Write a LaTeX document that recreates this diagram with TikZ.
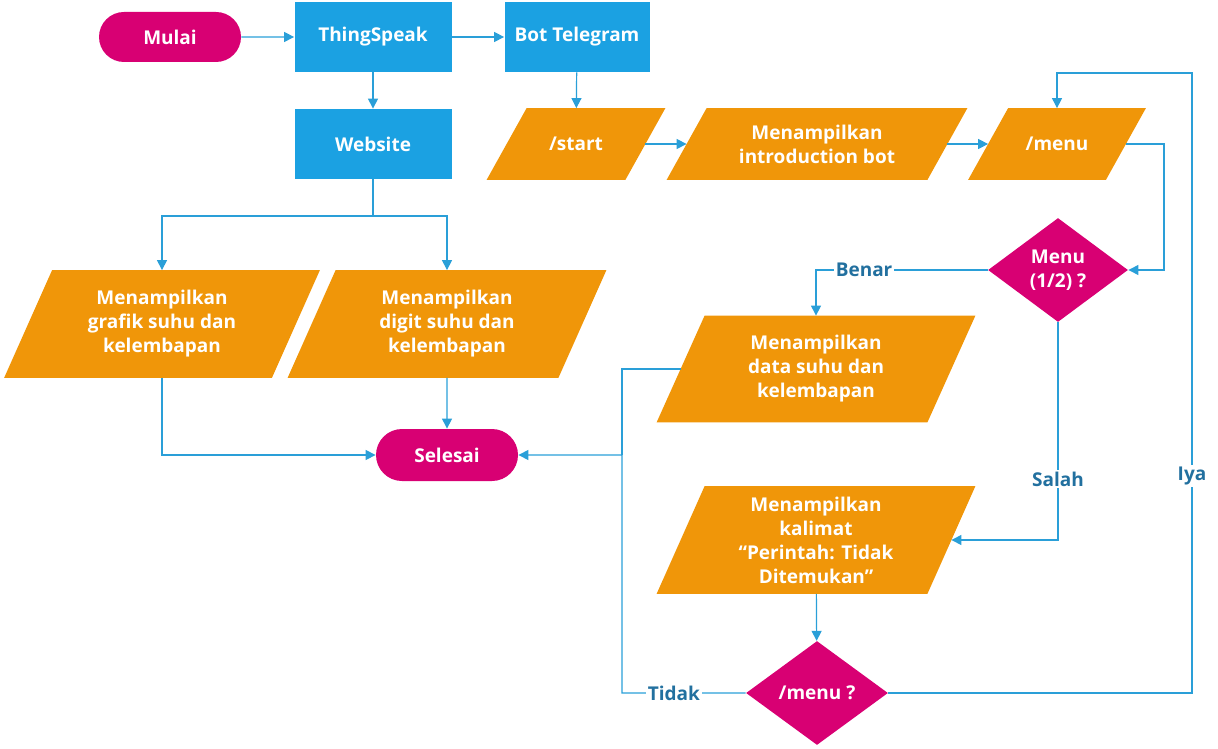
\documentclass[tikz,border=0pt]{standalone}
\usepackage{fontspec}
\setmainfont{Open Sans}
\usetikzlibrary{shapes.geometric,shapes.misc,arrows.meta,backgrounds}
\definecolor{fcMagenta}{HTML}{D80073}
\definecolor{fcBlue}{HTML}{1BA1E2}
\definecolor{fcOrange}{HTML}{F09609}
\definecolor{fcLine}{HTML}{2A9FD8}
\definecolor{fcLabel}{HTML}{22709F}
\tikzset{
  txt/.style={text=white, font=\fontsize{9.5}{12}\selectfont\bfseries, align=center, inner sep=0pt},
  terminal/.style={txt, rounded rectangle, fill=fcMagenta, minimum width=71pt, minimum height=25pt},
  process/.style={txt, rectangle, fill=fcBlue, minimum height=35pt},
  % parallelogram: #1 = width at mid height, #2 = half of the slant
  io/.style 2 args={txt, rectangle, minimum width=#1, append after command={
    \pgfextra{\begin{pgfonlayer}{background}
      \fill[fcOrange] ([xshift=-#2]\tikzlastnode.south west) -- ([xshift=-#2]\tikzlastnode.south east)
        -- ([xshift=#2]\tikzlastnode.north east) -- ([xshift=#2]\tikzlastnode.north west) -- cycle;
    \end{pgfonlayer}}}},
  decision/.style={txt, diamond, fill=fcMagenta, minimum width=70pt, minimum height=52pt, aspect=1.35},
  conn/.style={draw=fcLine, line width=0.6pt},
  flow/.style={conn, -{Triangle[length=5pt,width=5pt]}},
  lbl/.style={fill=white, text=fcLabel, font=\fontsize{9.5}{12}\selectfont\bfseries, inner sep=1pt}
}
\begin{document}
\begin{tikzpicture}[x=0.5pt, y=-0.5pt]
  \useasboundingbox (0,0) rectangle (1218,748);
  % top row
  \node[terminal] (mulai) at (170,37) {Mulai};
  \node[process, minimum width=78.5pt] (thing) at (373,37) {ThingSpeak};
  \node[process, minimum width=72.5pt] (bot) at (577,37) {Bot Telegram};
  \node[process, minimum width=78.5pt] (web) at (373,144) {Website};
  % telegram branch
  \node[io={69pt}{10pt}, minimum height=35.5pt] (start) at (576,144) {/start};
  \node[io={130pt}{10pt}, minimum height=35.5pt] (intro) at (817,144) {Menampilkan\\introduction bot};
  \node[io={68.5pt}{10pt}, minimum height=35.5pt] (menu) at (1057,144) {/menu};
  \node[decision] (tanya1) at (1058,270) {Menu\\(1/2) ?};
  \node[io={135pt}{12pt}, minimum height=53pt] (data) at (816,369) {Menampilkan\\data suhu dan\\kelembapan};
  \node[io={135pt}{12pt}, minimum height=53.5pt] (kalimat) at (816,540) {Menampilkan\\kalimat\\“Perintah: Tidak\\Ditemukan”};
  \node[decision, minimum width=71pt] (tanya2) at (817,693) {/menu ?};
  % website branch
  \node[io={133.5pt}{12pt}, minimum height=53.5pt] (grafik) at (162,324) {Menampilkan\\grafik suhu dan\\kelembapan};
  \node[io={135pt}{12pt}, minimum height=53.5pt] (digit) at (447,324) {Menampilkan\\digit suhu dan\\kelembapan};
  \node[terminal, minimum height=26pt] (selesai) at (447,455) {Selesai};
  % helper points
  \coordinate (cab) at (373,216);
  \coordinate (menuR) at (1164,144);
  \coordinate (jl) at (622,455);
  \coordinate (iyaB) at (1192,693);
  \coordinate (iyaT) at (1192,73);
  % connectors
  \draw[flow] (mulai) -- (thing);
  \draw[flow] (thing) -- (bot);
  \draw[flow] (thing) -- (web);
  \draw[flow] (bot) -- (start);
  \draw[flow] (start) -- (intro);
  \draw[flow] (intro) -- (menu);
  \draw[conn] (web) -- (cab);
  \draw[flow] (cab) -| (grafik);
  \draw[flow] (cab) -| (digit);
  \draw[flow] (grafik) |- (selesai);
  \draw[flow] (digit) -- (selesai);
  \draw[flow] (menu.east) -- (menuR) |- (tanya1);
  \draw[flow] (tanya1) -| node[lbl, pos=0.36] {Benar} (data);
  \draw[flow] (tanya1) |- node[lbl, pos=0.36] {Salah} (kalimat);
  \draw[flow] (kalimat) -- (tanya2);
  \draw[conn] (data.west) -| (jl);
  \draw[flow] (tanya2) -| node[lbl, pos=0.29] {Tidak} (jl) -- (selesai);
  \draw[flow] (tanya2) -- (iyaB) -- node[lbl, pos=0.35] {Iya} (iyaT) -| (menu);
\end{tikzpicture}
\end{document}
